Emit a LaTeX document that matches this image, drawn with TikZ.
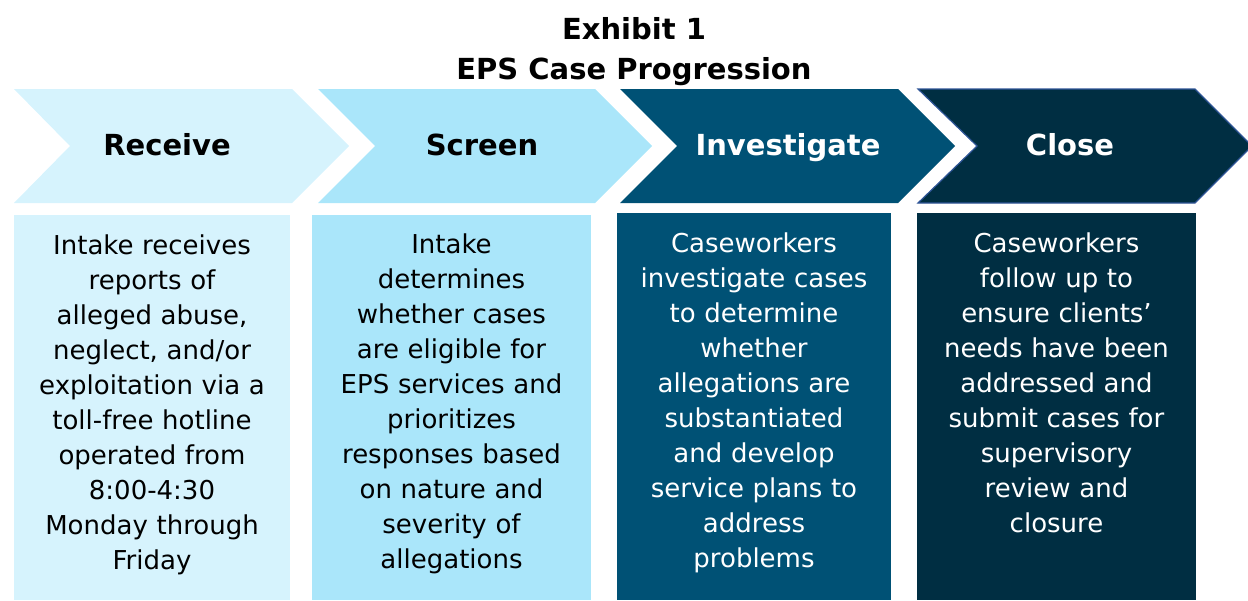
\documentclass[tikz,border=0pt]{standalone}
\usepackage{fontspec}
\setmainfont{DejaVu Sans}
\definecolor{paleblue}{RGB}{214,243,253}
\definecolor{lightblue}{RGB}{170,230,250}
\definecolor{tealblue}{RGB}{0,81,117}
\definecolor{navy}{RGB}{0,46,66}
\definecolor{edgeblue}{RGB}{47,85,151}
\tikzset{
  heading/.style={font=\fontsize{29}{34}\selectfont\bfseries, anchor=base, inner sep=0pt},
  body/.style={font=\fontsize{26}{35}\selectfont, anchor=base, align=center,
    text width=276pt, inner sep=0pt},
  title/.style={font=\fontsize{29}{34}\selectfont\bfseries, anchor=base, inner sep=0pt},
}
% chevron: #1 left x, #2 notch x, #3 shoulder x, #4 tip x
\newcommand{\chevronpath}[4]{(#1,89) -- (#3,89) -- (#4,146) -- (#3,203) -- (#1,203) -- (#2,146) -- cycle}
\begin{document}
\begin{tikzpicture}[x=1pt,y=-1pt]
\useasboundingbox (0,0) rectangle (1248,600);

% title
\node[title] (t1) at (634,39) {Exhibit 1};
\node[title] (t2) at (634,79) {EPS Case Progression};

% chevrons
\fill[paleblue] \chevronpath{14}{70}{292}{349};
\fill[lightblue] \chevronpath{318}{375}{595}{652};
\fill[tealblue] \chevronpath{620}{677}{898}{955};
\filldraw[fill=navy, draw=edgeblue, line width=1.2pt] \chevronpath{918}{977}{1195}{1252};

\node[heading] (h1) at (167,155) {Receive};
\node[heading] (h2) at (482,155) {Screen};
\node[heading, text=white] (h3) at (788,155) {Investigate};
\node[heading, text=white] (h4) at (1070,155) {Close};

% description boxes
\fill[paleblue] (14,215) rectangle (290,600);
\fill[lightblue] (312,215) rectangle (591,600);
\fill[tealblue] (617,213) rectangle (891,600);
\fill[navy] (917,213) rectangle (1196,600);

\node[body] (b1) at (152,254) {Intake receives\\reports of\\alleged abuse,\\neglect, and/or\\exploitation via a\\toll-free hotline\\operated from\\8:00-4:30\\Monday through\\Friday};
\node[body] (b2) at (451.5,253) {Intake\\determines\\whether cases\\are eligible for\\EPS services and\\prioritizes\\responses based\\on nature and\\severity of\\allegations};
\node[body, text=white] (b3) at (754,252) {Caseworkers\\investigate cases\\to determine\\whether\\allegations are\\substantiated\\and develop\\service plans to\\address\\problems};
\node[body, text=white] (b4) at (1056.5,252) {Caseworkers\\follow up to\\ensure clients’\\needs have been\\addressed and\\submit cases for\\supervisory\\review and\\closure};
\end{tikzpicture}
\end{document}
